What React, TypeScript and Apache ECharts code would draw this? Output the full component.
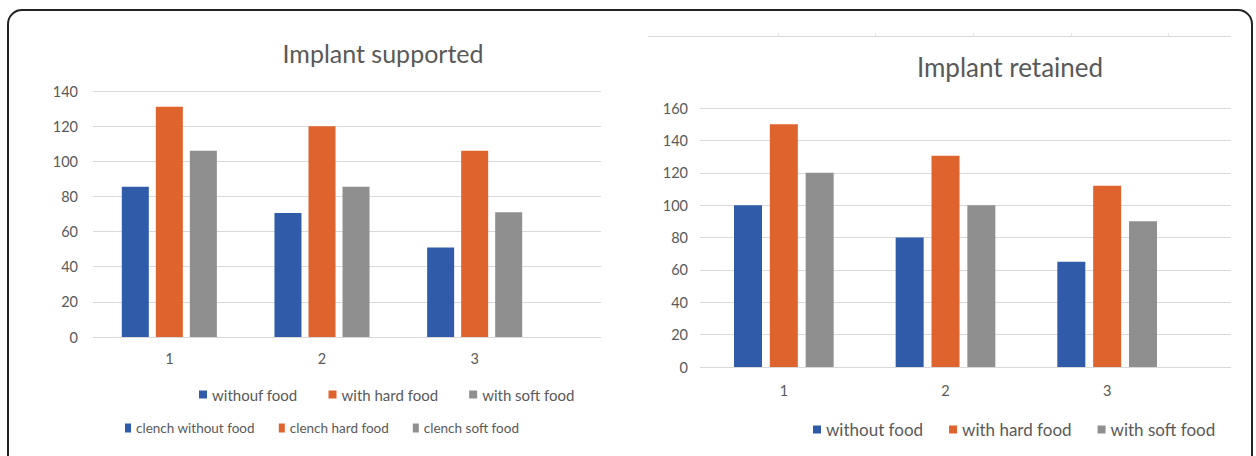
import React, { useEffect, useRef } from "react";
import * as echarts from "echarts";

const categories = ["1", "2", "3"];

const supportedNames = ["withouf food", "with hard food", "with soft food"];
const clenchNames = ["clench without food", "clench hard food", "clench soft food"];
const retainedNames = ["without food", "with hard food", "with soft food"];

const supportedWithout = [85.5, 70.5, 51];
const supportedHard = [131, 120, 106];
const supportedSoft = [106, 85.5, 71];

const retainedWithout = [100, 80, 65];
const retainedHard = [150, 130.5, 112];
const retainedSoft = [120, 100, 90];

const supportedAxis = { min: 0, max: 140, interval: 20 };
const retainedAxis = { min: 0, max: 160, interval: 20 };

const colors = ["#2F5BA9", "#DF632C", "#8F8F8F"];
const textColor = "#595959";
const gridColor = "#D9D9D9";
const FONT = "Lato, 'Open Sans', sans-serif";

export default function App() {
  const ref = useRef<HTMLDivElement>(null);

  useEffect(() => {
    document.body.style.margin = "0";
    const chart = echarts.init(ref.current!, null, { renderer: "svg" });

    const valueAxis = (gridIndex: number, cfg: any, labels: boolean) => ({
      type: "value",
      gridIndex,
      min: cfg.min,
      max: cfg.max,
      interval: cfg.interval,
      axisLine: { show: false },
      axisTick: { show: false },
      axisLabel: {
        show: labels,
        color: textColor,
        fontSize: 14.5,
        fontFamily: FONT,
        margin: 15,
      },
      splitLine: { show: !labels, lineStyle: { color: gridColor, width: 1 } },
    });

    const catAxis = (gridIndex: number, show: boolean, margin: number) => ({
      type: "category",
      gridIndex,
      data: categories,
      show,
      axisLine: { show: false },
      axisTick: { show: false },
      axisLabel: { color: textColor, fontSize: 14.5, fontFamily: FONT, margin },
      splitLine: { show: false },
    });

    const supportedValues = [supportedWithout, supportedHard, supportedSoft];
    const retainedValues = [retainedWithout, retainedHard, retainedSoft];

    const series: any[] = [];
    supportedNames.forEach((n, i) =>
      series.push({
        type: "bar",
        name: n,
        xAxisIndex: 0,
        yAxisIndex: 0,
        data: supportedValues[i],
        barWidth: 27,
        barGap: "26%",
        itemStyle: { color: colors[i] },
      })
    );
    clenchNames.forEach((n, i) =>
      series.push({
        type: "bar",
        name: n,
        xAxisIndex: 1,
        yAxisIndex: 1,
        data: [],
        itemStyle: { color: colors[i] },
      })
    );
    retainedNames.forEach((n, i) =>
      series.push({
        type: "bar",
        name: n,
        xAxisIndex: 2,
        yAxisIndex: 2,
        data: retainedValues[i],
        barWidth: 28,
        barGap: "28%",
        itemStyle: { color: colors[i] },
      })
    );

    const legendText = (size: number) => ({
      color: textColor,
      fontSize: size,
      fontFamily: FONT,
    });

    chart.setOption({
      animation: false,
      backgroundColor: "#ffffff",
      grid: [
        { left: 93, top: 91, width: 458, height: 246 },
        { left: 93, top: 91, width: 508, height: 246 },
        { left: 703, top: 108, width: 485, height: 259 },
        { left: 700, top: 108, width: 531, height: 259 },
      ],
      xAxis: [
        catAxis(0, true, 14),
        catAxis(1, false, 13),
        catAxis(2, true, 16),
        catAxis(3, false, 13),
      ],
      yAxis: [
        valueAxis(0, supportedAxis, true),
        valueAxis(1, supportedAxis, false),
        valueAxis(2, retainedAxis, true),
        valueAxis(3, retainedAxis, false),
      ],
      legend: [
        {
          data: supportedNames,
          left: 194,
          top: 382,
          itemWidth: 8,
          itemHeight: 8,
          itemGap: 31,
          icon: "rect",
          textStyle: legendText(15),
          selectedMode: false,
        },
        {
          data: clenchNames,
          left: 120,
          top: 416,
          itemWidth: 6,
          itemHeight: 9,
          itemGap: 24,
          icon: "rect",
          textStyle: legendText(13.5),
          selectedMode: false,
        },
        {
          data: retainedNames,
          left: 808,
          top: 416,
          itemWidth: 8,
          itemHeight: 8,
          itemGap: 26,
          icon: "rect",
          textStyle: legendText(17),
          selectedMode: false,
        },
      ],
      graphic: [
        {
          type: "rect",
          shape: { x: 8, y: 10, width: 1244, height: 462, r: 14 },
          style: { fill: "none", stroke: "#222222", lineWidth: 2 },
          silent: true,
        },
        {
          type: "line",
          shape: { x1: 648, y1: 36.5, x2: 1231, y2: 36.5 },
          style: { stroke: gridColor, lineWidth: 1 },
          silent: true,
        },
        ...[778, 875, 973, 1071, 1168].map((x) => ({
          type: "line",
          shape: { x1: x + 0.5, y1: 33, x2: x + 0.5, y2: 36 },
          style: { stroke: "#E6E6E6", lineWidth: 1 },
          silent: true,
        })),
        {
          type: "text",
          x: 383,
          y: 53,
          style: {
            text: "Implant supported",
            fill: textColor,
            font: `25px ${FONT}`,
            textAlign: "center",
            textVerticalAlign: "middle",
          },
        },
        {
          type: "text",
          x: 1010,
          y: 67,
          style: {
            text: "Implant retained",
            fill: textColor,
            font: `26px ${FONT}`,
            textAlign: "center",
            textVerticalAlign: "middle",
          },
        },
      ],
      series,
    });

    return () => chart.dispose();
  }, []);

  return <div ref={ref} style={{ width: 1256, height: 456 }} />;
}
